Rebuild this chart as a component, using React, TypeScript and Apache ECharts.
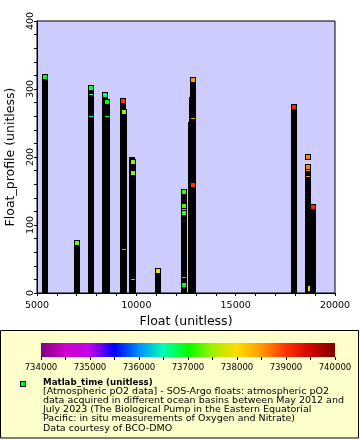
import React, { useEffect, useRef } from "react";
import * as echarts from "echarts";

// Float id and last profile of each float (drawn as stacked markers => black column)
const floatIds = [5400, 7010, 7720, 8420, 8520, 9330, 9380, 9780, 9830, 11090, 12400, 12765, 12800, 12850, 17930, 18640, 18890];
const lastProfiles = [318, 73.5, 302, 291.5, 281, 282, 266, 195.5, 193, 33, 148.5, 247.5, 284, 313.5, 273.5, 185, 126];

// fully visible markers (float, profile, Matlab_time)
const markFloats = [5400, 7010, 7720, 8420, 8520, 9330, 9380, 9830, 9830, 11090, 12400, 12400, 12400, 12400, 12850, 12850, 17930, 18640, 18640, 18890];
const markProfiles = [318, 73.5, 302, 291.5, 281, 282, 266, 193, 177, 33, 148.5, 128, 118, 12, 313.5, 159, 273.5, 200, 185, 126];
const markTimes = [736900, 737350, 736850, 736600, 736950, 739000, 737450, 737450, 737450, 737850, 737150, 737250, 737200, 736900, 738500, 739000, 739100, 738600, 738600, 739100];

// partly hidden markers (only an edge shows)
const edgeFloats = [7720, 7720, 8520, 9380, 9830, 12400, 12400, 12850, 18640, 18640];
const edgeProfiles = [292, 261, 260, 64.5, 20.5, 123.5, 23, 257, 180.5, 171.5];
const edgeTimes = [736700, 736450, 736800, 736400, 736400, 737400, 736850, 738350, 738500, 738500];

const sliverFloats = [18690];
const sliverProfiles = [6];
const sliverTimes = [737900];

const timeMin = 734000;
const timeMax = 740000;
const palette = [
  "#800080", "#d000d0", "#c000e8", "#0000ff", "#0090ff", "#00ffb0", "#00ff00",
  "#a0f000", "#ffdd00", "#ff9900", "#ff3300", "#d00000", "#800000",
];

const legendTitle = "Matlab_time (unitless)";
const legendLines = [
  "[Atmospheric pO2 data] - SOS-Argo floats: atmospheric pO2",
  "data acquired in different ocean basins between May 2012 and",
  "July 2023 (The Biological Pump in the Eastern Equatorial",
  "Pacific: in situ measurements of Oxygen and Nitrate)",
  "Data courtesy of BCO-DMO",
];

const FONT = "DejaVu Sans";

export default function App() {
  const ref = useRef<HTMLDivElement>(null);
  useEffect(() => {
    const chart = echarts.init(ref.current!, null, { renderer: "svg" });
    const gradient = new echarts.graphic.LinearGradient(
      0, 0, 1, 0,
      palette.map((c, i) => ({ offset: i / (palette.length - 1), color: c }))
    );
    const lineGap = 9.2;
    const option: any = {
      animation: false,
      grid: [
        {
          left: 37, top: 21, width: 298, height: 272, outerBoundsMode: "none", containLabel: false,
          show: true, backgroundColor: "#ccccff", borderColor: "#000", borderWidth: 1,
        },
        { left: 41, top: 343, width: 294, height: 14, outerBoundsMode: "none", containLabel: false },
      ],
      xAxis: [
        {
          gridIndex: 0, type: "value", min: 5000, max: 20000, interval: 5000,
          name: "Float (unitless)", nameLocation: "middle", nameGap: 18,
          nameTextStyle: { fontFamily: FONT, fontSize: 12.5, color: "#000" },
          axisLine: { lineStyle: { color: "#000" } },
          axisTick: { length: 3, lineStyle: { color: "#000" } },
          minorTick: { show: true, splitNumber: 5, length: 3, lineStyle: { color: "#000" } },
          splitLine: { show: false },
          axisLabel: { fontFamily: FONT, fontSize: 9.5, color: "#000", margin: 6, formatter: (v: number) => String(v) },
        },
        {
          gridIndex: 1, type: "value", min: timeMin, max: timeMax, interval: 500,
          axisLine: { show: false },
          axisTick: { length: 3, lineStyle: { color: "#000" } },
          splitLine: { show: false },
          axisLabel: {
            fontFamily: "'Liberation Sans Narrow', 'DejaVu Sans Condensed', 'DejaVu Sans'",
            fontSize: 9.5, color: "#000", margin: 4,
            formatter: (v: number) => (v % 1000 === 0 ? String(v) : ""),
          },
        },
      ],
      yAxis: [
        {
          gridIndex: 0, type: "value", min: 0, max: 400, interval: 100,
          name: "Float_profile (unitless)", nameLocation: "middle", nameGap: 15,
          nameTextStyle: { fontFamily: FONT, fontSize: 12.5, color: "#000" },
          axisLine: { show: true, lineStyle: { color: "#000" } },
          axisTick: { show: true, length: 3, lineStyle: { color: "#000" } },
          minorTick: { show: true, splitNumber: 5, length: 3, lineStyle: { color: "#000" } },
          splitLine: { show: false },
          axisLabel: {
            fontFamily: FONT, fontSize: 9.5, color: "#000", rotate: 90, margin: 8,
            verticalAlign: "middle", align: "center",
            formatter: (v: number) => String(v),
          },
        },
        { gridIndex: 1, type: "value", min: 0, max: 1, show: false },
      ],
      visualMap: {
        type: "continuous", show: false, min: timeMin, max: timeMax, dimension: 2,
        seriesIndex: [1, 2, 3], inRange: { color: palette },
      },
      series: [
        {
          type: "custom", xAxisIndex: 0, yAxisIndex: 0, clip: true, silent: true,
          encode: { x: 0, y: 1 },
          data: floatIds.map((f, i) => [f, lastProfiles[i]]),
          renderItem: (_p: any, api: any) => {
            const t = api.coord([api.value(0), api.value(1)]);
            const b = api.coord([api.value(0), 0]);
            const x = Math.round(t[0] - 3);
            const y = Math.round(t[1] - 3);
            return { type: "rect", shape: { x, y, width: 6, height: Math.round(b[1]) - y }, style: { fill: "#000" } };
          },
        },
        {
          type: "custom", xAxisIndex: 0, yAxisIndex: 0, clip: true, silent: true,
          encode: { x: 0, y: 1 },
          data: markFloats.map((f, i) => [f, markProfiles[i], markTimes[i]]),
          renderItem: (_p: any, api: any) => {
            const c = api.coord([api.value(0), api.value(1)]);
            const x = Math.round(c[0] - 3);
            const y = Math.round(c[1] - 3);
            return {
              type: "group",
              children: [
                { type: "rect", shape: { x, y, width: 6, height: 6 }, style: { fill: "#000" } },
                { type: "rect", shape: { x: x + 1, y: y + 1, width: 4, height: 4 }, style: { fill: api.visual("color") } },
              ],
            };
          },
        },
        {
          type: "custom", xAxisIndex: 0, yAxisIndex: 0, clip: true, silent: true,
          encode: { x: 0, y: 1 },
          data: edgeFloats.map((f, i) => [f, edgeProfiles[i], edgeTimes[i]]),
          renderItem: (_p: any, api: any) => {
            const c = api.coord([api.value(0), api.value(1)]);
            return { type: "rect", shape: { x: Math.round(c[0] - 2), y: Math.round(c[1]), width: 4, height: 1 }, style: { fill: api.visual("color") } };
          },
        },
        {
          type: "custom", xAxisIndex: 0, yAxisIndex: 0, clip: true, silent: true,
          encode: { x: 0, y: 1 },
          data: sliverFloats.map((f, i) => [f, sliverProfiles[i], sliverTimes[i]]),
          renderItem: (_p: any, api: any) => {
            const c = api.coord([api.value(0), api.value(1)]);
            return { type: "rect", shape: { x: Math.round(c[0] - 1), y: Math.round(c[1] - 2.5), width: 2, height: 5 }, style: { fill: api.visual("color") } };
          },
        },
        {
          type: "custom", xAxisIndex: 1, yAxisIndex: 1, silent: true,
          encode: { x: [0, 1] },
          data: [[timeMin, timeMax]],
          renderItem: (_p: any, api: any) => {
            const a = api.coord([api.value(0), 1]);
            const b = api.coord([api.value(1), 0]);
            return { type: "rect", shape: { x: a[0], y: a[1], width: b[0] - a[0], height: b[1] - a[1] }, style: { fill: gradient } };
          },
        },
      ],
      graphic: [
        {
          type: "rect", z: -10,
          shape: { x: 0.5, y: 330.5, width: 358, height: 107.5 },
          style: { fill: "#ffffcc", stroke: "#000", lineWidth: 1 },
        },
        { type: "rect", shape: { x: 20, y: 381, width: 6, height: 6 }, style: { fill: "#000" } },
        { type: "rect", shape: { x: 21, y: 382, width: 4, height: 4 }, style: { fill: "#00ff00" } },
        {
          type: "text", x: 43, y: 381.8, scaleX: 1.06,
          style: { text: legendTitle, fontFamily: FONT, fontWeight: "bold", fontSize: 8.2, fill: "#000", verticalAlign: "middle" },
        },
        ...legendLines.map((t, i) => ({
          type: "text", x: 43, y: 381.8 + (i + 1) * lineGap, scaleX: 1.16,
          style: { text: t, fontFamily: FONT, fontSize: 8.2, fill: "#000", verticalAlign: "middle" },
        })),
      ],
    };
    chart.setOption(option);
    return () => chart.dispose();
  }, []);
  return <div ref={ref} style={{ position: "fixed", left: 0, top: 0, width: 360, height: 440 }} />;
}
